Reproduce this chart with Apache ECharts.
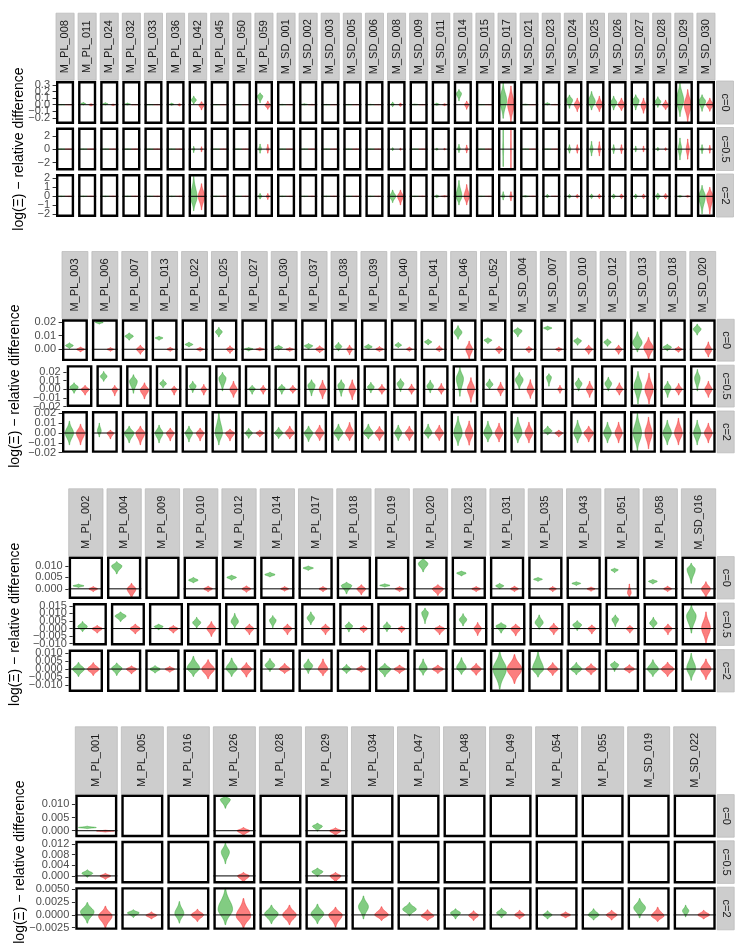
<!DOCTYPE html>
<html>
<head>
<meta charset="utf-8">
<script src="https://cdn.jsdelivr.net/npm/echarts@6/dist/echarts.min.js"></script>
<style>
  html, body { margin: 0; padding: 0; background: #fff; }
  #chart { width: 747px; height: 951px; }
</style>
</head>
<body>
<div id="chart"></div>
<script>
// ---- data: one violin = [low, mode, high, relative width], null = no data ----
const rowLabels = ['c=0', 'c=0.5', 'c=2'];

const models1 = ['M_PL_008','M_PL_011','M_PL_024','M_PL_032','M_PL_033','M_PL_036','M_PL_042','M_PL_045','M_PL_050','M_PL_059',
  'M_SD_001','M_SD_002','M_SD_003','M_SD_005','M_SD_006','M_SD_008','M_SD_009','M_SD_011','M_SD_014','M_SD_015',
  'M_SD_017','M_SD_021','M_SD_023','M_SD_024','M_SD_025','M_SD_026','M_SD_027','M_SD_028','M_SD_029','M_SD_030'];
const ticks1 = [[-0.2,-0.1,0,0.1,0.2,0.3], [-2,0,2], [-2,-1,0,1,2]];
const ranges1 = [[-0.294,0.361], [-3.2,3.24], [-2.3,2.48]];
const b1GreenC0 = [[-0.004,0,0.004,1],[-0.005,0.015,0.035,0.6],[-0.005,0.01,0.03,0.7],[-0.005,0.008,0.025,0.8],[-0.004,0,0.004,1],
  [-0.01,0.005,0.025,0.6],[0.01,0.07,0.13,0.65],[-0.004,0,0.004,1],[-0.004,0,0.004,1],[0.03,0.13,0.18,0.7],
  [-0.006,0,0.006,1],[-0.005,0.003,0.015,0.9],[-0.004,0,0.004,1],[-0.004,0,0.004,1],[-0.004,0,0.006,1],
  [-0.03,0.005,0.04,0.45],[-0.004,0.002,0.01,1],[-0.01,0.005,0.025,0.7],[0.06,0.17,0.23,0.65],[-0.004,0,0.004,1],
  [-0.207,0.07,0.33,0.9],[-0.005,0,0.01,1],[-0.005,0.01,0.03,0.7],[-0.055,0.07,0.148,0.8],[-0.08,0.045,0.2,0.95],
  [-0.08,0.03,0.13,0.8],[-0.08,0.06,0.15,0.85],[-0.04,0.045,0.12,0.75],[-0.18,0.07,0.34,0.95],[-0.1,0.05,0.15,0.9]];
const b1RedC0 = [[-0.004,0,0.004,1],[-0.02,0,0.015,0.6],[-0.015,0,0.01,0.6],[-0.004,0,0.004,1],[-0.004,0,0.004,1],
  [-0.02,0,0.015,0.5],[-0.08,-0.005,0.045,0.7],[-0.004,0,0.004,1],[-0.004,0,0.004,1],[-0.07,-0.01,0.055,0.7],
  [-0.004,0,0.004,1],[-0.006,0,0.006,1],[-0.004,0,0.004,1],[-0.004,0,0.004,1],[-0.004,0,0.004,1],
  [-0.025,0,0.025,0.45],[-0.004,0,0.004,1],[-0.015,0,0.015,0.6],[-0.07,0,0.055,0.55],[-0.004,0,0.004,1],
  [-0.26,0,0.285,0.85],[-0.004,0,0.004,1],[-0.006,0,0.006,1],[-0.105,0,0.1,0.75],[-0.105,0,0.13,0.8],
  [-0.09,0,0.1,0.85],[-0.13,-0.01,0.1,0.65],[-0.075,-0.01,0.07,0.8],[-0.26,0,0.23,0.9],[-0.1,0,0.1,0.9]];
const b1GreenC05 = [[-0.04,0,0.04,1],[-0.04,0,0.04,1],[-0.04,0,0.04,1],[-0.04,0,0.04,1],[-0.04,0,0.04,1],
  [-0.04,0,0.04,1],[-0.5,0,0.4,0.25],[-0.04,0,0.04,1],[-0.04,0,0.04,1],[-0.6,0.05,0.75,0.35],
  [-0.04,0,0.04,1],[-0.04,0,0.04,1],[-0.04,0,0.04,1],[-0.04,0,0.04,1],[-0.04,0,0.04,1],
  [-0.2,0,0.2,0.3],[-0.04,0,0.04,1],[-0.15,0,0.15,0.35],[-0.5,0.05,0.7,0.35],[-0.04,0,0.04,1],
  [-2.6,0,2.9,0.12],[-0.04,0,0.04,1],[-0.04,0,0.04,1],[-0.6,0,0.65,0.35],[-1.0,0,1.15,0.35],
  [-0.65,0,0.65,0.3],[-0.4,0,0.45,0.25],[-0.25,0,0.25,0.35],[-1.6,0,1.65,0.45],[-0.65,0,0.65,0.3]];
const b1RedC05 = [[-0.04,0,0.04,1],[-0.04,0,0.04,1],[-0.04,0,0.04,1],[-0.04,0,0.04,1],[-0.04,0,0.04,1],
  [-0.04,0,0.04,1],[-0.4,0,0.35,0.25],[-0.04,0,0.04,1],[-0.04,0,0.04,1],[-0.6,0,0.7,0.3],
  [-0.04,0,0.04,1],[-0.04,0,0.04,1],[-0.04,0,0.04,1],[-0.04,0,0.04,1],[-0.04,0,0.04,1],
  [-0.15,0,0.15,0.25],[-0.04,0,0.04,1],[-0.12,0,0.12,0.3],[-0.55,0,0.6,0.3],[-0.04,0,0.04,1],
  [-3.2,0,3.2,0.1],[-0.04,0,0.04,1],[-0.04,0,0.04,1],[-0.6,0,0.65,0.3],[-1.0,0,1.1,0.3],
  [-0.65,0,0.65,0.3],[-0.4,0,0.45,0.25],[-0.2,0,0.2,0.3],[-1.5,0,1.5,0.4],[-0.6,0,0.55,0.25]];
const b1GreenC2 = [[-0.04,0,0.04,1],[-0.04,0,0.04,1],[-0.04,0,0.04,1],[-0.04,0,0.04,1],[-0.04,0,0.04,1],
  [-0.04,0,0.04,1],[-1.6,-0.1,2.2,0.85],[-0.04,0,0.04,1],[-0.04,0,0.04,1],[-0.3,0,0.3,0.45],
  [-0.04,0,0.04,1],[-0.04,0,0.04,1],[-0.04,0,0.04,1],[-0.04,0,0.04,1],[-0.04,0,0.04,1],
  [-0.7,0,0.7,0.8],[-0.04,0,0.04,1],[-0.15,0,0.15,0.6],[-0.95,0,1.75,0.75],[-0.04,0,0.04,1],
  [-0.4,0,0.5,0.35],[-0.08,0,0.08,1],[-0.15,0,0.2,0.5],[-0.2,0,0.2,0.45],[-0.25,0,0.25,0.45],
  [-0.25,0,0.25,0.5],[-0.25,0,0.25,0.45],[-0.35,0,0.35,0.6],[-0.1,0,0.1,0.6],[-1.95,0,1.2,0.85]];
const b1RedC2 = [[-0.04,0,0.04,1],[-0.04,0,0.04,1],[-0.04,0,0.04,1],[-0.04,0,0.04,1],[-0.04,0,0.04,1],
  [-0.04,0,0.04,1],[-1.5,0,1.4,0.85],[-0.04,0,0.04,1],[-0.04,0,0.04,1],[-0.35,0,0.3,0.4],
  [-0.04,0,0.04,1],[-0.04,0,0.04,1],[-0.04,0,0.04,1],[-0.04,0,0.04,1],[-0.04,0,0.04,1],
  [-0.95,0,0.7,0.75],[-0.04,0,0.04,1],[-0.08,0,0.08,1],[-0.95,0,1.3,0.7],[-0.04,0,0.04,1],
  [-0.5,0,0.5,0.3],[-0.04,0,0.04,1],[-0.04,0,0.04,1],[-0.2,0,0.2,0.45],[-0.25,0,0.25,0.45],
  [-0.25,0,0.25,0.5],[-0.25,0,0.25,0.45],[-0.3,0,0.3,0.55],[-0.1,0,0.1,0.6],[-1.95,0,1.0,0.85]];

const models2 = ['M_PL_003','M_PL_006','M_PL_007','M_PL_013','M_PL_022','M_PL_025','M_PL_027','M_PL_030','M_PL_037','M_PL_038','M_PL_039',
  'M_PL_040','M_PL_041','M_PL_046','M_PL_052','M_SD_004','M_SD_007','M_SD_010','M_SD_012','M_SD_013','M_SD_018','M_SD_020'];
const ticks2 = [[0,0.01,0.02], [-0.02,-0.01,0,0.01,0.02], [-0.02,-0.01,0,0.01,0.02]];
const ranges2 = [[-0.0087,0.022], [-0.0205,0.028], [-0.0201,0.0224]];
const b2GreenC0 = [[0.0005,0.0027,0.0047,0.7],[0.0185,0.0197,0.0212,0.7],[0.0067,0.0096,0.012,0.75],[0.0067,0.0083,0.0096,0.7],
  [0.0017,0.0035,0.0052,0.7],[0.009,0.0128,0.016,0.6],[-0.0013,0.0003,0.0013,0.75],[-0.0007,0.0012,0.003,0.7],
  [0,0.0025,0.0042,0.75],[-0.0012,0.002,0.005,0.6],[0,0.0017,0.0037,0.7],[0.0012,0.003,0.005,0.6],
  [0.0032,0.0054,0.0074,0.65],[0.0074,0.0124,0.0173,0.7],[0.0042,0.0067,0.0084,0.7],[0.0091,0.0136,0.0158,0.75],
  [0.014,0.0156,0.017,0.75],[0.003,0.0062,0.0084,0.7],[0.0022,0.0052,0.0076,0.65],[-0.002,0.0047,0.0128,0.85],
  [-0.0012,0.0015,0.0037,0.75],[0.0104,0.0148,0.0185,0.7]];
const b2RedC0 = [[-0.002,0,0.0017,0.7],[-0.0015,0,0.0012,0.6],[-0.0037,0,0.003,0.7],[-0.0015,0,0.0015,0.6],
  [-0.0015,0,0.0015,0.65],[-0.003,0,0.0025,0.65],[-0.0012,0,0.0012,0.75],[-0.0015,0,0.0012,0.7],
  [-0.0025,0,0.0025,0.75],[-0.004,0,0.003,0.5],[-0.0017,0,0.002,0.7],[-0.0015,0,0.0017,0.55],
  [-0.0017,0,0.0025,0.6],[-0.0074,0,0.006,0.6],[-0.0032,0,0.0022,0.65],[-0.0025,0,0.002,0.6],
  [-0.0017,0,0.0015,0.6],[-0.0037,0,0.003,0.65],[-0.0037,0,0.003,0.6],[-0.0074,0.0012,0.0087,0.85],
  [-0.0022,0,0.002,0.65],[-0.0057,-0.0005,0.0054,0.6]];
const b2GreenC05 = [[-0.0045,0.0026,0.0075,0.75],[0.0093,0.015,0.0206,0.6],[-0.0045,0.0093,0.0169,0.7],[0.0019,0.0067,0.0112,0.6],
  [-0.0037,0.0037,0.0093,0.6],[-0.0019,0.013,0.0195,0.65],[-0.0056,0.0007,0.0045,0.55],[-0.0056,0.0015,0.0056,0.6],
  [-0.0075,0.0045,0.011,0.65],[-0.008,0.0045,0.011,0.6],[-0.004,0.0026,0.008,0.6],[-0.0026,0.0067,0.0123,0.6],
  [-0.004,0.0037,0.0105,0.6],[-0.008,0.0124,0.0255,0.65],[0,0.0056,0.012,0.6],[0,0.0112,0.0195,0.7],
  [0.0037,0.0142,0.018,0.45],[-0.0019,0.0067,0.0131,0.6],[-0.0019,0.0067,0.014,0.6],[-0.0169,0.0037,0.0206,0.7],
  [-0.0093,0.0019,0.0093,0.6],[-0.0019,0.013,0.023,0.5]];
const b2RedC05 = [[-0.0067,0,0.0045,0.7],[-0.0075,0,0.0045,0.5],[-0.0112,-0.0007,0.0075,0.75],[-0.0067,0,0.0037,0.5],
  [-0.0067,0,0.0056,0.5],[-0.0093,0,0.0093,0.65],[-0.0056,0,0.0045,0.5],[-0.0045,0,0.0045,0.6],
  [-0.011,0,0.0105,0.6],[-0.012,0,0.011,0.6],[-0.0056,0,0.0056,0.6],[-0.0056,0,0.006,0.55],
  [-0.0056,0,0.0067,0.55],[-0.015,0.0007,0.0135,0.65],[-0.0075,0,0.0082,0.55],[-0.0105,-0.0007,0.0112,0.6],
  [-0.0045,0,0.0045,0.4],[-0.0093,0,0.0093,0.6],[-0.0067,0,0.0075,0.6],[-0.0169,0,0.0187,0.75],
  [-0.0067,0,0.0067,0.6],[-0.0093,0,0.0093,0.65]];
const b2GreenC2 = [[-0.012,0,0.012,0.75],[-0.004,0.002,0.01,0.35],[-0.01,0,0.007,0.85],[-0.01,0,0.008,0.7],
  [-0.009,0,0.007,0.65],[-0.012,0,0.021,0.65],[-0.0053,0,0.0047,0.65],[-0.0055,0,0.0057,0.75],
  [-0.0087,0,0.007,0.75],[-0.0077,0,0.009,0.8],[-0.006,0,0.009,0.85],[-0.0077,0,0.008,0.65],
  [-0.0053,0,0.009,0.7],[-0.0127,0,0.017,0.75],[-0.009,0,0.012,0.75],[-0.01,0,0.016,0.75],
  [-0.002,0.002,0.007,0.75],[-0.01,0,0.013,0.7],[-0.01,0,0.011,0.7],[-0.018,0,0.02,0.75],
  [-0.012,0,0.013,0.75],[-0.012,0,0.013,0.65]];
const b2RedC2 = [[-0.012,0,0.009,0.75],[-0.006,0,0.003,0.6],[-0.012,0,0.007,0.8],[-0.008,0,0.005,0.7],
  [-0.008,0,0.005,0.7],[-0.008,0,0.004,0.8],[-0.004,0,0.003,0.7],[-0.006,0,0.007,0.8],
  [-0.0077,0,0.008,0.75],[-0.0077,0,0.0107,0.75],[-0.0077,0,0.0067,0.8],[-0.0077,0,0.007,0.75],
  [-0.0077,0,0.008,0.75],[-0.0123,0,0.0123,0.7],[-0.009,0,0.01,0.7],[-0.01,0,0.011,0.7],
  [-0.004,0,0.003,0.7],[-0.009,0,0.007,0.85],[-0.01,0,0.011,0.65],[-0.016,0,0.016,0.65],
  [-0.012,0,0.015,0.7],[-0.01,0,0.01,0.7]];

const models3 = ['M_PL_002','M_PL_004','M_PL_009','M_PL_010','M_PL_012','M_PL_014','M_PL_017','M_PL_018','M_PL_019',
  'M_PL_020','M_PL_023','M_PL_031','M_PL_035','M_PL_043','M_PL_051','M_PL_058','M_SD_016'];
const ticks3 = [[0,0.005,0.01], [-0.01,-0.005,0,0.005,0.01,0.015], [-0.01,-0.005,0,0.005,0.01]];
const ranges3 = [[-0.0044,0.0141], [-0.0111,0.0168], [-0.0142,0.0121]];
const b3GreenC0 = [[0.0006,0.0013,0.0021,0.75],[0.0065,0.01,0.0119,0.7],null,[0.0026,0.0038,0.005,0.65],
  [0.0038,0.005,0.006,0.65],[0.0052,0.0062,0.0073,0.7],[0.0081,0.0091,0.01,0.7],[-0.0022,0.0015,0.0029,0.7],
  [0.0008,0.0015,0.0022,0.7],[0.0074,0.011,0.0135,0.65],[0.0056,0.0069,0.0078,0.65],[0,0.0013,0.0024,0.55],
  [0.0033,0.0042,0.005,0.6],[0.0015,0.0024,0.0031,0.6],[0.0071,0.0083,0.009,0.5],[0.0021,0.0033,0.0041,0.6],
  [0.0024,0.0086,0.0112,0.55]];
const b3RedC0 = [[-0.0012,0,0.001,0.6],[-0.0042,0,0.0024,0.6],null,[-0.0013,0,0.0012,0.6],
  [-0.0015,0,0.0013,0.6],[-0.001,0,0.001,0.55],[-0.0012,0,0.001,0.55],[-0.0026,0,0.0018,0.6],
  [-0.0012,0,0.001,0.6],[-0.0029,0,0.0018,0.75],[-0.0012,0,0.001,0.6],[-0.0012,0,0.0012,0.55],
  [-0.0012,0,0.001,0.5],[-0.001,0,0.0008,0.55],[-0.0038,-0.0018,0.0021,0.25],[-0.0012,0,0.0012,0.55],
  [-0.0038,0,0.0031,0.6]];
const b3GreenC05 = [[-0.002,0.0013,0.0046,0.65],[0.0046,0.0083,0.011,0.75],[-0.0009,0.0013,0.003,0.6],[0.0003,0.0039,0.0074,0.55],
  [0.0003,0.0046,0.01,0.5],[0.0005,0.0055,0.0085,0.45],[0.0026,0.007,0.011,0.5],[-0.0022,0.0017,0.0044,0.5],
  [-0.002,0.0013,0.0044,0.5],[0.0033,0.0104,0.0135,0.45],[0.0017,0.0059,0.0098,0.5],[-0.003,0.0017,0.0039,0.7],
  [-0.0004,0.0039,0.009,0.55],[-0.0013,0.0024,0.0052,0.6],[0.0013,0.0061,0.009,0.45],[0.0003,0.0035,0.0074,0.5],
  [-0.003,0.0083,0.0155,0.65]];
const b3RedC05 = [[-0.003,0,0.002,0.7],[-0.0035,0,0.003,0.7],[-0.003,0,0.002,0.65],[-0.0052,0,0.0046,0.6],
  [-0.004,0,0.003,0.6],[-0.004,0,0.003,0.6],[-0.004,0,0.003,0.6],[-0.0026,0,0.002,0.55],
  [-0.0026,0,0.0017,0.5],[-0.004,0,0.002,0.7],[-0.0046,0,0.004,0.5],[-0.0048,0,0.003,0.65],
  [-0.004,0,0.0035,0.6],[-0.0035,0,0.0024,0.55],[-0.003,0,0.002,0.5],[-0.004,0,0.003,0.55],
  [-0.01,0.0003,0.011,0.6]];
const b3GreenC2 = [[-0.0046,0,0.0041,0.8],[-0.004,0.0005,0.0038,0.7],[-0.0025,0,0.0021,0.7],[-0.0046,0.0006,0.0079,0.85],
  [-0.0046,0.0004,0.0069,0.75],[-0.0015,0.0023,0.0066,0.65],[-0.0027,0.002,0.0063,0.6],[-0.0027,0,0.0029,0.6],
  [-0.0048,0,0.0035,0.8],[-0.0038,0.0004,0.0063,0.55],[-0.0033,0.0008,0.0071,0.65],[-0.0125,0,0.011,0.9],
  [-0.005,0,0.011,0.75],[-0.0035,0,0.0041,0.75],[-0.0015,0.0027,0.0048,0.55],[-0.0046,0,0.0058,0.75],
  [-0.007,0.0005,0.0098,0.6]];
const b3RedC2 = [[-0.004,0,0.004,0.8],[-0.003,0,0.002,0.7],[-0.002,0,0.0017,0.65],[-0.006,0,0.0058,0.85],
  [-0.005,0,0.004,0.7],[-0.0027,0,0.0035,0.75],[-0.0042,0,0.0063,0.65],[-0.002,0,0.0021,0.65],
  [-0.0027,0,0.0025,0.75],[-0.0027,0,0.0025,0.75],[-0.0038,0,0.0035,0.7],[-0.009,0,0.009,1.0],
  [-0.004,0,0.004,0.7],[-0.0035,0,0.0033,0.75],[-0.0025,0,0.0027,0.7],[-0.0046,0,0.0042,0.85],
  [-0.0065,0,0.0063,0.7]];

const models4 = ['M_PL_001','M_PL_005','M_PL_016','M_PL_026','M_PL_028','M_PL_029','M_PL_034','M_PL_047','M_PL_048',
  'M_PL_049','M_PL_054','M_PL_055','M_SD_019','M_SD_022'];
const ticks4 = [[0,0.005,0.01], [0,0.004,0.008,0.012], [-0.0025,0,0.0025,0.005]];
const ranges4 = [[-0.00246,0.0137], [-0.00283,0.01327], [-0.0029,0.0054]];
const b4GreenC0 = [[0.0008,0.0012,0.0017,1.0],null,null,[0.0085,0.0119,0.0132,0.55],null,[-0.0002,0.0017,0.0029,0.55],
  null,null,null,null,null,null,null,null];
const b4RedC0 = [[-0.0005,-0.0001,0.0002,1.0],null,null,[-0.0018,0,0.0012,0.7],null,[-0.0018,0,0.0011,0.65],
  null,null,null,null,null,null,null,null];
const b4GreenC05 = [[-0.0005,0.001,0.0023,0.6],null,null,[0.0046,0.009,0.0125,0.45],null,[-0.0003,0.0016,0.003,0.6],
  null,null,null,null,null,null,null,null];
const b4RedC05 = [[-0.0013,0,0.001,0.6],null,null,[-0.0024,0,0.0013,0.65],null,[-0.0024,0,0.0013,0.6],
  null,null,null,null,null,null,null,null];
const b4GreenC2 = [[-0.0016,0.0006,0.0024,0.75],[-0.0005,0.0004,0.001,0.65],[-0.0016,0.0003,0.0026,0.5],[-0.0019,0.0011,0.0052,0.8],
  [-0.0017,0.0002,0.0019,0.75],[-0.0017,0.0002,0.0021,0.7],[-0.0008,0.0016,0.0037,0.55],[-0.0002,0.0011,0.0024,0.75],
  [-0.0008,0.0004,0.0012,0.55],[-0.0006,0.0004,0.0013,0.55],[-0.0008,0,0.0008,0.5],[-0.001,0,0.0012,0.6],
  [-0.0006,0.0014,0.0032,0.65],[-0.0004,0.0008,0.0019,0.35]];
const b4RedC2 = [[-0.0026,-0.0002,0.0017,0.75],[-0.0008,-0.0001,0.0006,0.6],[-0.0013,0,0.0011,0.7],[-0.0026,-0.0002,0.0032,0.8],
  [-0.0019,0,0.0019,0.75],[-0.0024,0,0.0015,0.75],[-0.0011,0,0.0016,0.75],[-0.0011,-0.0002,0.001,0.7],
  [-0.0011,-0.0001,0.0008,0.55],[-0.0008,0,0.0009,0.55],[-0.0006,0,0.0006,0.55],[-0.001,0,0.0009,0.6],
  [-0.0013,-0.0002,0.0015,0.7],[-0.0008,0,0.0009,0.65]];

// ---- layout ----
const GAP = 4;
const FONT = '"Liberation Sans", Arial, sans-serif';
const GREEN = 'rgba(46,170,46,0.6)', GREEN_LINE = 'rgba(46,160,46,0.75)';
const RED = 'rgba(248,40,40,0.6)', RED_LINE = 'rgba(240,40,40,0.75)';

const blocks = [
  { models: models1, ticks: ticks1, ranges: ranges1, dec: [1, 0, 0],
    green: [b1GreenC0, b1GreenC05, b1GreenC2], red: [b1RedC0, b1RedC05, b1RedC2],
    left: 56, right: 715, tops: [81, 127.5, 174], height: 43 },
  { models: models2, ticks: ticks2, ranges: ranges2, dec: [2, 2, 2],
    green: [b2GreenC0, b2GreenC05, b2GreenC2], red: [b2RedC0, b2RedC05, b2RedC2],
    left: 62, right: 715.7, tops: [319.3, 365.2, 411], height: 41.8 },
  { models: models3, ticks: ticks3, ranges: ranges3, dec: [3, 3, 3],
    green: [b3GreenC0, b3GreenC05, b3GreenC2], red: [b3RedC0, b3RedC05, b3RedC2],
    left: 68.7, right: 715.7, tops: [556.6, 603.1, 649.6], height: 42.3 },
  { models: models4, ticks: ticks4, ranges: ranges4, dec: [3, 3, 4],
    green: [b4GreenC0, b4GreenC05, b4GreenC2], red: [b4RedC0, b4RedC05, b4RedC2],
    left: 75.3, right: 715.7, tops: [794.6, 840.8, 887.2], height: 42.6 }
];

function fmt(v, d) {
  return v.toFixed(d).replace('-', '\u2212');
}

function panelBox(api, i, range) {
  const band = api.size([1, 0])[0];
  const x0 = api.coord([i, 0])[0] - band / 2;
  const yTop = api.coord([i, range[1]])[1];
  const yBot = api.coord([i, range[0]])[1];
  return { x: x0, y: yTop, w: band - GAP, h: yBot - yTop };
}

function violinRender(side, fill, stroke) {
  return function (params, api) {
    const i = api.value(0), lo = api.value(1), md = api.value(2), hi = api.value(3), w = api.value(4);
    const band = api.size([1, 0])[0];
    const pw = band - GAP;
    const xc = api.coord([i, 0])[0] - band / 2 + pw * (0.5 + side * 0.215);
    const maxHalf = 0.215 * pw * w;
    const ys = [];
    const n = 24;
    for (let k = 0; k <= n; k++) ys.push(lo + (md - lo) * k / n);
    for (let k = 1; k <= n; k++) ys.push(md + (hi - md) * k / n);
    const rightSide = [], leftSide = [];
    ys.forEach(function (y) {
      const s = y < md ? (md - lo) / 2.45 : (hi - md) / 2.45;
      const f = s > 0 ? Math.exp(-0.5 * Math.pow((y - md) / s, 2)) : 1;
      const h = Math.max(maxHalf * f, 0.25);
      const py = api.coord([i, y])[1];
      rightSide.push([xc + h, py]);
      leftSide.push([xc - h, py]);
    });
    return {
      type: 'polygon',
      shape: { points: rightSide.concat(leftSide.reverse()) },
      style: { fill: fill, stroke: stroke, lineWidth: 0.6 }
    };
  };
}

const grids = [], xAxes = [], yAxes = [], series = [];

blocks.forEach(function (b) {
  const N = b.models.length;
  const pitch = (b.right - b.left + GAP) / N;
  for (let r = 0; r < 3; r++) {
    const gi = grids.length;
    const yi = yAxes.length;
    const range = b.ranges[r];
    const dec = b.dec[r];
    const ticks = b.ticks[r];
    grids.push({ left: b.left, top: b.tops[r], width: N * pitch, height: b.height });
    xAxes.push({ gridIndex: gi, type: 'category', data: b.models, boundaryGap: true, show: false });
    // two left axes share the labels (alternating) so that crowded labels are all drawn
    const labelSets = [ticks.filter(function (t, k) { return k % 2 === 0; }),
                       ticks.filter(function (t, k) { return k % 2 === 1; })];
    labelSets.forEach(function (vals, s) {
      const ya = {
        gridIndex: gi, type: 'value', min: range[0], max: range[1], position: 'left', offset: 0,
        axisLine: { show: false }, splitLine: { show: false },
        axisTick: { show: s === 0, length: 3.4, customValues: ticks, lineStyle: { color: '#333333', width: 1 } },
        axisLabel: { show: vals.length > 0, customValues: vals, margin: 6, color: '#4D4D4D', fontSize: 11, fontFamily: FONT,
          hideOverlap: false, showMinLabel: true, showMaxLabel: true,
          formatter: function (v) { return fmt(v, dec); } }
      };
      if (r === 1 && s === 0) {
        ya.name = 'log(\u039E) \u2212 relative difference';
        ya.nameLocation = 'middle';
        ya.nameRotate = 90;
        ya.nameGap = b.left - 27;
        ya.nameTextStyle = { fontSize: 14, color: '#000', fontFamily: FONT };
      }
      yAxes.push(ya);
    });

    const green = b.green[r], red = b.red[r];
    const allCols = b.models.map(function (m, i) { return [i]; });
    const usedCols = allCols.filter(function (c) { return green[c[0]] || red[c[0]]; });
    const greenData = [], redData = [];
    green.forEach(function (v, i) { if (v) greenData.push([i].concat(v)); });
    red.forEach(function (v, i) { if (v) redData.push([i].concat(v)); });

    // panel background
    series.push({
      type: 'custom', xAxisIndex: gi, yAxisIndex: yi, z: 1, silent: true, data: allCols,
      renderItem: function (params, api) {
        const p = panelBox(api, api.value(0), range);
        return { type: 'rect', shape: { x: p.x, y: p.y, width: p.w, height: p.h }, style: { fill: '#ffffff' } };
      }
    });
    // violins
    series.push({
      type: 'custom', xAxisIndex: gi, yAxisIndex: yi, z: 3, silent: true, clip: true,
      encode: { x: 0, y: 2 }, data: greenData, renderItem: violinRender(-1, GREEN, GREEN_LINE)
    });
    series.push({
      type: 'custom', xAxisIndex: gi, yAxisIndex: yi, z: 3, silent: true, clip: true,
      encode: { x: 0, y: 2 }, data: redData, renderItem: violinRender(1, RED, RED_LINE)
    });
    // zero reference line
    series.push({
      type: 'custom', xAxisIndex: gi, yAxisIndex: yi, z: 4, silent: true, data: usedCols,
      renderItem: function (params, api) {
        const p = panelBox(api, api.value(0), range);
        const y0 = api.coord([api.value(0), 0])[1];
        return { type: 'line', shape: { x1: p.x, y1: y0, x2: p.x + p.w, y2: y0 }, style: { stroke: '#000', lineWidth: 1 } };
      }
    });
    // panel border
    series.push({
      type: 'custom', xAxisIndex: gi, yAxisIndex: yi, z: 5, silent: true, data: allCols,
      renderItem: function (params, api) {
        const p = panelBox(api, api.value(0), range);
        return { type: 'rect', shape: { x: p.x + 1.2, y: p.y + 1.2, width: p.w - 2.4, height: p.h - 2.4 },
          style: { fill: 'none', stroke: '#000', lineWidth: 2.4 } };
      }
    });
    // top strips (first row only)
    if (r === 0) {
      const models = b.models;
      series.push({
        type: 'custom', xAxisIndex: gi, yAxisIndex: yi, z: 5, silent: true, data: allCols,
        renderItem: function (params, api) {
          const i = api.value(0);
          const p = panelBox(api, i, range);
          const sh = 67;
          return { type: 'group', children: [
            { type: 'rect', shape: { x: p.x, y: p.y - sh - 0.8, width: p.w, height: sh },
              style: { fill: '#CDCDCD', stroke: '#BDBDBD', lineWidth: 0.8 } },
            { type: 'text', x: p.x + p.w / 2, y: p.y - 0.8 - sh / 2, rotation: Math.PI / 2,
              style: { text: models[i], fill: '#1A1A1A', font: '11px ' + FONT, align: 'center', verticalAlign: 'middle' } }
          ] };
        }
      });
    }
    // right strip
    const label = rowLabels[r];
    series.push({
      type: 'custom', xAxisIndex: gi, yAxisIndex: yi, z: 5, silent: true, data: [[N - 1]],
      renderItem: function (params, api) {
        const p = panelBox(api, api.value(0), range);
        const x = p.x + p.w + 1.5;
        return { type: 'group', children: [
          { type: 'rect', shape: { x: x, y: p.y, width: 17, height: p.h },
            style: { fill: '#CDCDCD', stroke: '#BDBDBD', lineWidth: 0.8 } },
          { type: 'text', x: x + 8.5, y: p.y + p.h / 2, rotation: -Math.PI / 2,
            style: { text: label, fill: '#1A1A1A', font: '11px ' + FONT, align: 'center', verticalAlign: 'middle' } }
        ] };
      }
    });
  }
});

const chart = echarts.init(document.getElementById('chart'), null, { renderer: 'canvas' });
chart.setOption({
  backgroundColor: '#ffffff',
  animation: false,
  grid: grids,
  xAxis: xAxes,
  yAxis: yAxes,
  series: series
});
</script>
</body>
</html>
